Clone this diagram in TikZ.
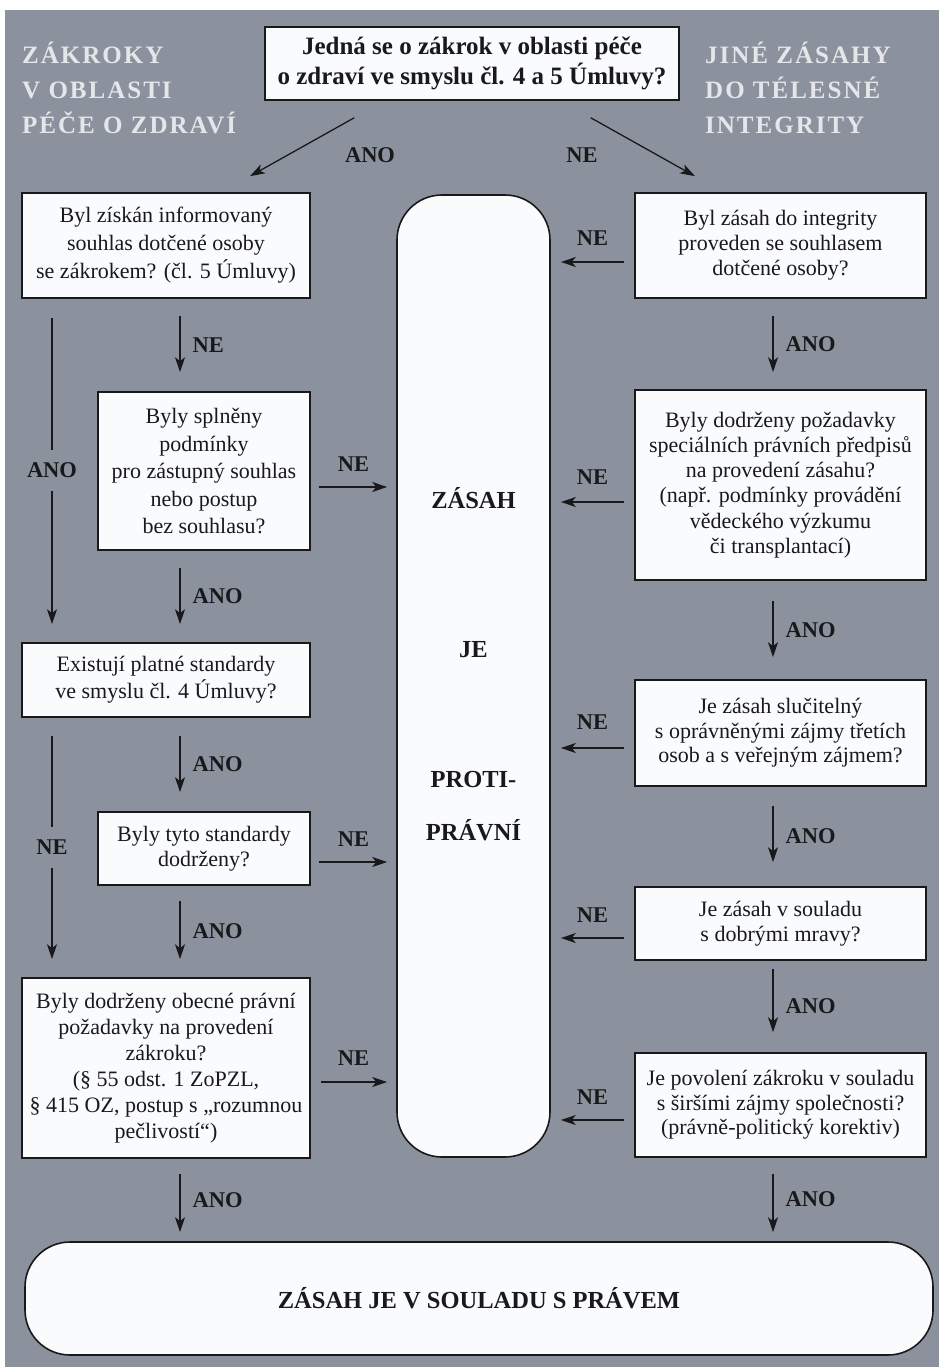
\documentclass[tikz,border=0pt]{standalone}
\usepackage{fontspec}
\setmainfont{Liberation Serif}
\newfontfamily\hdrfont{Liberation Serif}[LetterSpace=8]
\usetikzlibrary{arrows.meta,calc}
\definecolor{bg}{RGB}{140,146,157}
\definecolor{hdrc}{RGB}{228,230,234}
\definecolor{ink}{RGB}{25,25,28}
\definecolor{boxfill}{RGB}{250,251,252}
\begin{document}
\begin{tikzpicture}[x=1pt,y=-1pt,
 box/.style={draw=ink,fill=boxfill,line width=1.6pt,align=center,inner sep=0pt,text=ink},
 roundbox/.style={draw=ink,fill=boxfill,line width=1.6pt,rounded corners=45pt,inner sep=0pt},
 bigtxt/.style={font=\bfseries\fontsize{24.5}{30}\selectfont,text=ink,inner sep=0pt},
 lbl/.style={font=\bfseries\fontsize{22.5}{26}\selectfont,text=ink,inner sep=0pt},
 gaplbl/.style={lbl,fill=bg,inner xsep=2pt,inner ysep=13pt},
 hdr/.style={font=\hdrfont\bfseries\fontsize{25}{35}\selectfont,text=hdrc,align=left,inner sep=0pt,anchor=north west},
 arr/.style={draw=ink,line width=1.3pt,-{Stealth[length=15pt,width=10pt,inset=4pt]}},
]
\useasboundingbox (0,0) rectangle (939,1367);
\fill[white] (0,0) rectangle (939,1367);
\fill[bg] (5,10) rectangle (939,1367);

% headers
\node[hdr] (hl) at (22,42) {ZÁKROKY\\V OBLASTI\\PÉČE O ZDRAVÍ};
\node[hdr] (hr) at (705,42) {JINÉ ZÁSAHY\\DO TÉLESNÉ\\INTEGRITY};

% top question
\node[box,minimum width=414pt,minimum height=73pt,font=\bfseries\fontsize{25}{30}\selectfont] (top) at (472,63.5)
  {Jedná se o zákrok v oblasti péče\\o zdraví ve smyslu čl. 4 a 5 Úmluvy?};

% left column
\node[box,minimum width=288pt,minimum height=105pt,font=\fontsize{22}{28}\selectfont] (L1) at (166,245.5)
  {Byl získán informovaný\\souhlas dotčené osoby\\se zákrokem? (čl. 5 Úmluvy)};
\node[box,minimum width=212pt,minimum height=158pt,font=\fontsize{22}{27.5}\selectfont] (L2) at (204,471)
  {Byly splněny\\podmínky\\pro zástupný souhlas\\nebo postup\\bez souhlasu?};
\node[box,minimum width=288pt,minimum height=74pt,font=\fontsize{22}{27}\selectfont] (L3) at (166,680)
  {Existují platné standardy\\ve smyslu čl. 4 Úmluvy?};
\node[box,minimum width=212pt,minimum height=73pt,font=\fontsize{22}{25}\selectfont] (L4) at (204,848.5)
  {Byly tyto standardy\\dodrženy?};
\node[box,minimum width=288pt,minimum height=180pt,font=\fontsize{22}{26}\selectfont] (L5) at (166,1068)
  {Byly dodrženy obecné právní\\požadavky na provedení\\zákroku?\\(§ 55 odst. 1 ZoPZL,\\§ 415 OZ, postup s „rozumnou\\pečlivostí“)};

% right column
\node[box,minimum width=291pt,minimum height=105pt,font=\fontsize{22}{25}\selectfont] (R1) at (780.5,245.5)
  {Byl zásah do integrity\\proveden se souhlasem\\dotčené osoby?};
\node[box,minimum width=291pt,minimum height=190pt,font=\fontsize{22}{25.3}\selectfont] (R2) at (780.5,485)
  {Byly dodrženy požadavky\\speciálních právních předpisů\\na provedení zásahu?\\(např. podmínky provádění\\vědeckého výzkumu\\či transplantací)};
\node[box,minimum width=291pt,minimum height=106pt,font=\fontsize{22}{24.5}\selectfont] (R3) at (780.5,733)
  {Je zásah slučitelný\\s oprávněnými zájmy třetích\\osob a s veřejným zájmem?};
\node[box,minimum width=291pt,minimum height=73pt,font=\fontsize{22}{25}\selectfont] (R4) at (780.5,923.5)
  {Je zásah v souladu\\s dobrými mravy?};
\node[box,minimum width=291pt,minimum height=104pt,font=\fontsize{22}{24.5}\selectfont] (R5) at (780.5,1105)
  {Je povolení zákroku v souladu\\s širšími zájmy společnosti?\\(právně-politický korektiv)};

% central column and final box
\node[roundbox,minimum width=153pt,minimum height=962pt] (zone) at (473.5,676) {};
\node[bigtxt,anchor=base] (t1) at (zone.center |- 0,508) {ZÁSAH};
\node[bigtxt,anchor=base] (t2) at (zone.center |- 0,657) {JE};
\node[bigtxt,anchor=base] (t3) at (zone.center |- 0,787) {PROTI-};
\node[bigtxt,anchor=base] (t4) at (zone.center |- 0,840) {PRÁVNÍ};

\node[roundbox,minimum width=908pt,minimum height=113pt,font=\bfseries\fontsize{24.5}{30}\selectfont,text=ink] (final) at (479,1298.5)
  {ZÁSAH JE V SOULADU S PRÁVEM};

% top diagonal arrows
\coordinate (a1) at ($(top.south west)+(90,17)$);
\coordinate (a2) at ($(L1.north)+(84,-16)$);
\coordinate (b1) at ($(top.south east)+(-89,17)$);
\coordinate (b2) at ($(R1.north)+(-85.5,-16)$);
\draw[arr] (a1) -- (a2);
\draw[arr] (b1) -- (b2);
\node[lbl] (lano) at (370,155) {ANO};
\node[lbl] (lne) at (582,155) {NE};

% left column vertical arrows
\draw[arr,shorten <=17pt,shorten >=19pt] (L1.south -| 180,0) -- (L2.north -| 180,0) node[lbl,midway,right=12pt] {NE};
\draw[arr,shorten <=19pt,shorten >=18pt] (L1.south -| 52,0) -- (L3.north -| 52,0) node[gaplbl,midway] {ANO};
\draw[arr,shorten <=17pt,shorten >=18pt] (L2.south -| 180,0) -- (L3.north -| 180,0) node[lbl,midway,right=12pt] {ANO};
\draw[arr,shorten <=18pt,shorten >=19pt] (L3.south -| 180,0) -- (L4.north -| 180,0) node[lbl,midway,right=12pt] {ANO};
\draw[arr,shorten <=18pt,shorten >=18pt] (L3.south -| 52,0) -- (L5.north -| 52,0) node[gaplbl,midway] {NE};
\draw[arr,shorten <=15pt,shorten >=18pt] (L4.south -| 180,0) -- (L5.north -| 180,0) node[lbl,midway,right=12pt] {ANO};
\draw[arr,shorten <=15pt,shorten >=9pt] (L5.south -| 180,0) -- (final.north -| 180,0) node[lbl,midway,right=12pt] {ANO};

% left column horizontal arrows
\draw[arr,shorten <=8pt,shorten >=9pt] (L2.east |- 0,487) -- (zone.west |- 0,487) node[lbl,midway,yshift=23pt] {NE};
\draw[arr,shorten <=8pt,shorten >=9pt] (L4.east |- 0,862) -- (zone.west |- 0,862) node[lbl,midway,yshift=23pt] {NE};
\draw[arr,shorten <=10pt,shorten >=9pt] (L5.east |- 0,1082) -- (zone.west |- 0,1082) node[lbl,midway,yshift=24pt] {NE};

% right column vertical arrows
\draw[arr,shorten <=17pt,shorten >=17pt] (R1.south -| 773,0) -- (R2.north -| 773,0) node[lbl,midway,right=12pt] {ANO};
\draw[arr,shorten <=20pt,shorten >=22pt] (R2.south -| 773,0) -- (R3.north -| 773,0) node[lbl,midway,right=12pt] {ANO};
\draw[arr,shorten <=19pt,shorten >=24pt] (R3.south -| 773,0) -- (R4.north -| 773,0) node[lbl,midway,right=12pt] {ANO};
\draw[arr,shorten <=8pt,shorten >=20pt] (R4.south -| 773,0) -- (R5.north -| 773,0) node[lbl,midway,right=12pt] {ANO};
\draw[arr,shorten <=16pt,shorten >=9pt] (R5.south -| 773,0) -- (final.north -| 773,0) node[lbl,midway,right=12pt] {ANO};

% right column horizontal arrows
\draw[arr,shorten <=10pt,shorten >=10pt] (R1.west |- 0,262) -- (zone.east |- 0,262) node[lbl,midway,yshift=24pt] {NE};
\draw[arr,shorten <=10pt,shorten >=10pt] (R2.west |- 0,502) -- (zone.east |- 0,502) node[lbl,midway,yshift=25pt] {NE};
\draw[arr,shorten <=10pt,shorten >=10pt] (R3.west |- 0,748) -- (zone.east |- 0,748) node[lbl,midway,yshift=26pt] {NE};
\draw[arr,shorten <=10pt,shorten >=10pt] (R4.west |- 0,938) -- (zone.east |- 0,938) node[lbl,midway,yshift=23pt] {NE};
\draw[arr,shorten <=10pt,shorten >=10pt] (R5.west |- 0,1120) -- (zone.east |- 0,1120) node[lbl,midway,yshift=23pt] {NE};
\end{tikzpicture}
\end{document}
